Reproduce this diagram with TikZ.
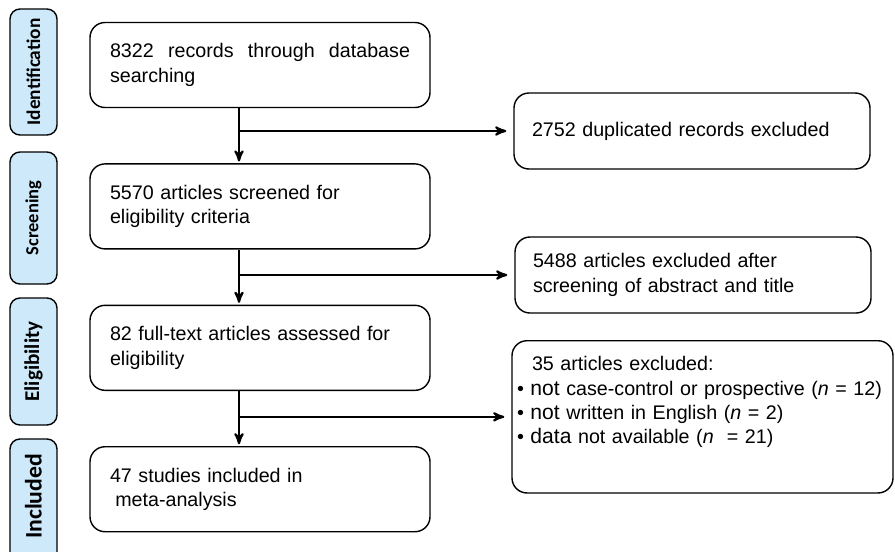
\documentclass[tikz,border=0pt]{standalone}
\usepackage{fontspec}
\setmainfont{Liberation Sans}
\newfontfamily\phasefont{Carlito}
\usetikzlibrary{arrows,positioning}
\definecolor{phaseblue}{RGB}{206,234,250}

\begin{document}
\begin{tikzpicture}[->,>=stealth',shorten >=1pt,node distance=1.1cm,
                    line width=1.2pt,font=\fontsize{11.2}{13.8}\selectfont]
  \tikzstyle{box}=[draw,line width=0.8pt,rounded corners=0.3cm,fill=white,
                   text width=6.0cm,inner xsep=0.4cm,minimum height=1.7cm,align=left]
  \tikzstyle{exbox}=[box,text width=6.4cm,inner xsep=0.36cm,minimum height=1.52cm]
  \tikzstyle{phase}=[draw,line width=0.8pt,rounded corners=0.2cm,fill=phaseblue,
                     rotate=90,minimum height=0.94cm,inner sep=0pt,font=\phasefont\bfseries]

  \path[use as bounding box,clip] (0,0) rectangle (17.9,-11.02);

  % phases
  \node[phase,minimum width=2.52cm] (identification) at (0.67,-1.44)
       {\fontsize{11}{13}\selectfont Identification};
  \node[phase,minimum width=2.64cm] (screening) at (0.67,-4.36)
       {\fontsize{10.5}{13}\selectfont Screening};
  \node[phase,minimum width=2.54cm] (eligibility) at (0.67,-7.23)
       {\fontsize{12}{14}\selectfont Eligibility};
  \node[phase,minimum width=2.82cm] (inclusion) at (0.67,-10.19)
       {\hspace*{0.52cm}\fontsize{13.5}{15}\selectfont Included};

  % main flow
  \node[box,align=justify] (records) at (5.2,-1.3)  {8322 records through database searching};
  \node[box] (screened) [below=of records]  {5570 articles screened for\\eligibility criteria};
  \node[box] (fulltext) [below=of screened] {82 full-text articles assessed for\\eligibility};
  \node[box] (included) [below=of fulltext] {47 studies included in\\\hspace*{3pt}meta-analysis};

  % exclusions
  \node[exbox] (duplicates) at (13.84,-2.62) {2752 duplicated records excluded};
  \node[exbox] (abstract)   at (13.86,-5.5)  {5488 articles excluded after\\screening of abstract and title};
  \node[box,text width=7.42cm,inner xsep=0.1cm,inner ysep=0.32cm,minimum height=0pt,
        text depth=2.12cm,anchor=north] (reasons) at (14.05,-6.8)
       {\hspace*{0.3cm}35 articles excluded:\\
        \textbullet\ {\fontsize{12}{13.8}\selectfont not} case-control or prospective (\textit{n} = 12)\\
        \textbullet\ {\fontsize{12}{13.8}\selectfont not} written in English (\textit{n} = 2)\\
        \textbullet\ {\fontsize{12}{13.8}\selectfont data} not available (\textit{n}\ \ = 21)};

  \coordinate (spine) at (4.78,0);
  \draw (records.south -| spine)  -- (screened.north -| spine);
  \draw (screened.south -| spine) -- (fulltext.north -| spine);
  \draw (fulltext.south -| spine) -- (included.north -| spine);
  \draw[shorten >=4pt] (spine |- duplicates.west) -- (duplicates.west);
  \draw[shorten >=4pt] (spine |- abstract.west)   -- (abstract.west);
  \draw[shorten >=4pt] (spine |- reasons.west)    -- (reasons.west);
\end{tikzpicture}
\end{document}
